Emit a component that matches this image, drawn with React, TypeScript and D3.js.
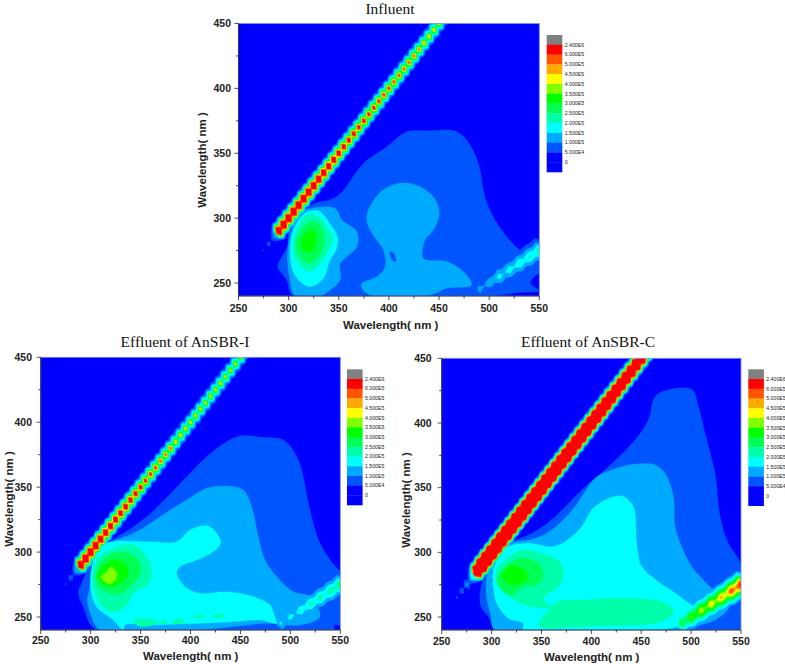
import React from "react";
import * as d3 from "d3";

type Pt = [number, number];
type Layer = { level: number; points: Pt[] };

// Contour levels and their colours (low to high)
const levelValues = [5e4, 1e5, 1.5e5, 2e5, 2.5e5, 3e5, 3.5e5, 4e5, 4.5e5, 5e5, 6e5];
const levelColors = ["#0055ff", "#00aaff", "#00ffff", "#00ffaa", "#00ff55", "#00ff00", "#80ff00", "#ffff00", "#ffaa00", "#ff5500", "#ff0000"];
const backgroundColor = "#0000ff";

const legendLabels = ["2.400E6", "6.000E5", "5.000E5", "4.500E5", "4.000E5", "3.500E5", "3.000E5", "2.500E5", "2.000E5", "1.500E5", "1.000E5", "5.000E4", "0"];
const legendColors = ["#808080", "#ff0000", "#ff5500", "#ffaa00", "#ffff00", "#80ff00", "#00ff00", "#00ff55", "#00ffaa", "#00ffff", "#00aaff", "#0055ff", "#0000ff", "#0000ff"];

const xMajor = [250, 300, 350, 400, 450, 500, 550];
const xMinor = [275, 325, 375, 425, 475, 525];
const yMajor = [250, 300, 350, 400, 450];
const yMinor = [275, 325, 375, 425];

// Scatter ridge y = x: excitation position and peak height
const ridgeCenters = [265, 270, 275, 280, 285, 290, 295, 300, 305, 310, 315, 320, 325, 330, 335, 340, 345, 350, 355, 360, 365, 370, 375, 380, 385, 390, 395, 400, 405, 410, 415, 420, 425, 430, 435, 440, 445, 450, 455];
const influentRidge = [0, 0, 5.5e4, 7e4, 1e5, 1.3e6, 1.25e6, 1.25e6, 1.25e6, 1.2e6, 1.2e6, 1.15e6, 1.15e6, 1.1e6, 1.05e6, 1e6, 9.5e5, 9e5, 8.5e5, 8e5, 8e5, 7.5e5, 7.5e5, 7e5, 7e5, 6.8e5, 6.5e5, 6.5e5, 6.2e5, 6.2e5, 6e5, 6e5, 5.8e5, 5.5e5, 5.2e5, 5e5, 5e5, 4.6e5, 4.6e5];
const anSbrIRidge = [0, 0, 5.5e4, 8e4, 1.2e5, 1.3e6, 1.25e6, 1.2e6, 1.15e6, 1.1e6, 1e6, 1e6, 9.5e5, 9e5, 9e5, 8.5e5, 8e5, 7.5e5, 7e5, 6.8e5, 6.5e5, 6e5, 5.8e5, 5.8e5, 5e5, 4.8e5, 4.8e5, 4.6e5, 4.6e5, 4.6e5, 4.5e5, 4.5e5, 4.5e5, 4.5e5, 4.4e5, 4.4e5, 4.4e5, 4.4e5, 4.4e5];
const anSbrCRidge = [6e4, 8e4, 1.2e5, 1.7e5, 2.4e6, 3.6e6, 3.6e6, 3.6e6, 3.6e6, 3.6e6, 3.6e6, 3.5e6, 3.5e6, 3.5e6, 3.5e6, 3.4e6, 3.4e6, 3.3e6, 3.3e6, 3.2e6, 3.2e6, 3.1e6, 3.1e6, 3e6, 3e6, 2.9e6, 2.9e6, 2.8e6, 2.8e6, 2.7e6, 2.6e6, 2.5e6, 2.4e6, 2.3e6, 2.2e6, 2.1e6, 2e6, 2e6, 2e6];

// Second-order ridge y = x / 2
const secondX = [490, 500, 510, 520, 530, 540, 550];
const secondY = [245, 250, 255, 260, 265, 270, 275];
const influentSecond = [1.2e5, 1.3e5, 1.7e5, 1.8e5, 2e5, 2.1e5, 2.4e5];
const anSbrISecond = [1.6e5, 1.7e5, 1.9e5, 2.2e5, 2.3e5, 2.4e5, 2.8e5];
const anSbrCSecond = [3e5, 3.6e5, 4.2e5, 4.5e5, 4.8e5, 5.5e5, 6.5e5];

// Broad fluorescence contours, in (emission, excitation) nm
const influentContours: Layer[] = [
  { level: 0, points: [[324.7, 310.9], [348, 316.5], [374.6, 342.2], [397.8, 355], [417.8, 366.6], [441, 367.3], [461, 367.9], [471, 365.3], [480.9, 356.3], [489.2, 342.2], [495.8, 316.5], [504, 301.1], [517.4, 285.7], [532.4, 274.2], [550, 265], [550, 258], [545, 255], [541, 250], [550, 244], [534, 243], [500.8, 240], [304.8, 240], [298, 252.3], [289.2, 262.6], [293.2, 270.3], [298.8, 278], [300.8, 290.8], [313, 303.7]] },
  { level: 1, points: [[313, 305], [321.4, 307.5], [346.3, 307.5], [353, 298.5], [368, 289.6], [368, 278], [358, 270.3], [351.3, 265], [351.3, 252.3], [341.4, 244.6], [331.4, 240], [306.5, 240], [300.8, 255], [298.8, 273], [303, 290.8]] },
  { level: 1, points: [[414.4, 327.3], [431, 324.2], [444.3, 316.5], [450.3, 303.7], [444.3, 290.8], [436, 283.1], [434.4, 269], [457.6, 266.5], [474.2, 258.8], [482.5, 248.5], [457.6, 246], [441, 240.8], [381.2, 240.8], [373, 246], [373, 249.8], [387.9, 254.9], [396.2, 262.6], [394.5, 275.4], [387.9, 283.1], [379.6, 293.4], [377.9, 301.1], [382.9, 311.4], [396.2, 322.9]] },
  { level: 2, points: [[316.4, 303.7], [329.7, 305.7], [339.7, 297.3], [348.7, 285.7], [348, 276.7], [341.4, 267.7], [334.7, 253.6], [321.4, 247.2], [309.8, 252.3], [303, 262.6], [301.5, 275.4], [304.8, 290.8]] },
  { level: 3, points: [[318.1, 302.4], [329.7, 301.1], [338, 293.4], [344, 284.4], [339.7, 275.4], [331.4, 265.2], [320.8, 258.8], [309.8, 265.2], [304.8, 275.4], [307, 288]] },
  { level: 4, points: [[320.4, 297.3], [329.7, 296], [334.7, 288.3], [334.7, 278], [328.7, 269], [319.8, 265.2], [311.5, 270.3], [307, 278], [309.8, 287]] },
  { level: 5, points: [[321.4, 290.8], [327.4, 287], [326.4, 279.3], [321.4, 273.6], [314, 276.7], [313.1, 283.1]] },
];
const anSbrIContours: Layer[] = [
  { level: 0, points: [[324.4, 310.6], [356.1, 327.3], [396.2, 358.1], [416.2, 373.5], [436.2, 385], [449.6, 389.4], [472.9, 388.4], [492.9, 386.3], [504.6, 376.1], [511.3, 363.2], [519.6, 332.4], [529.6, 306.8], [543, 290.8], [550, 284.2], [550, 243.9], [544, 243.9], [543, 240], [306, 240], [292.7, 258], [287.7, 268.3], [291, 276], [295.4, 283.7], [301, 293.9], [309.4, 304.2]] },
  { level: 1, points: [[321.1, 308], [346.1, 315.7], [369.5, 327.3], [396.2, 340.1], [416.2, 349.1], [436.2, 350.9], [452.9, 347.8], [461.2, 335], [467.9, 311.9], [474.6, 293.9], [486.3, 281.1], [503, 269.5], [519.6, 265.7], [529.6, 250.3], [509.6, 243.9], [476.3, 245.2], [442.9, 242.6], [409.5, 240], [309.4, 240], [301, 250.3], [296.7, 263.1], [299.4, 273.4], [303.4, 293.9], [311, 304.2]] },
  { level: 2, points: [[321.1, 308], [359.5, 308], [386.2, 308], [399.5, 317], [416.2, 320.4], [426.2, 314.5], [430.2, 306.8], [422.9, 300.3], [406.2, 293.9], [389.5, 288.8], [386.2, 283.7], [394.5, 273.4], [409.5, 268.3], [436.2, 269.5], [462.9, 265.7], [479.6, 259.3], [484.6, 249.8], [486.3, 245.2], [469.6, 247.7], [442.9, 246.4], [409.5, 245.2], [359.5, 243.9], [334.4, 243.9], [332.8, 240], [322.7, 247.7], [306, 258], [300, 273.4], [302, 291.4], [309.4, 304.2]] },
  { level: 3, points: [[309.4, 296.5], [322.7, 302.9], [342.8, 305.5], [356.1, 296.5], [361.1, 286.2], [357.8, 276], [342.8, 268.3], [336.1, 259.3], [324.4, 254.1], [312.7, 258], [304.4, 268.3], [302, 281.1], [304.4, 291.4]] },
  { level: 3, points: [[342.8, 247.2], [356.1, 249], [366.1, 245.6], [356.1, 242.6], [346.1, 243.9]] },
  { level: 3, points: [[366.8, 246.2], [372.8, 247.2], [377.8, 245.9], [372.8, 244.9]] },
  { level: 3, points: [[381.1, 245.7], [391.2, 249], [393.5, 246.5], [386.2, 244.6]] },
  { level: 3, points: [[402.2, 250.3], [409.5, 251.8], [413.5, 250.3], [407.8, 248.7]] },
  { level: 3, points: [[422.9, 250.8], [431.2, 252.3], [433.5, 250.8], [426.2, 249.3]] },
  { level: 4, points: [[312.7, 294], [324.4, 299.6], [341.1, 298.5], [350.1, 290], [349.4, 282.4], [341.1, 274.7], [331.1, 268.3], [319.4, 268.3], [309.4, 272.1], [305, 279.8], [307.7, 288.3]] },
  { level: 5, points: [[316.1, 291.4], [324.4, 294], [335.4, 290], [337.1, 282.4], [331.1, 276.7], [321.1, 273.4], [312.7, 275.4], [307, 279.8], [309.4, 286.8]] },
  { level: 6, points: [[320.1, 288.6], [326.1, 284.8], [326.1, 280], [319.4, 275.3], [312.4, 278.4], [310, 281], [315.4, 284]] },
];
const anSbrCContours: Layer[] = [
  { level: 0, points: [[320.2, 308.3], [343.5, 316], [363.6, 327.6], [390.3, 348.2], [417, 366.2], [443.8, 386.9], [457.1, 402.3], [463.8, 420.4], [473.8, 425], [500.6, 426], [507.3, 412.6], [515.6, 386.9], [524, 361.1], [529, 327.6], [537.3, 307], [550, 290.2], [550, 240], [305.1, 240], [296.8, 250.3], [289.4, 258], [288.4, 268.3], [293.4, 283.8], [300.1, 294.1], [310.1, 304.4]] },
  { level: 1, points: [[318.5, 307], [343.5, 310.8], [360.3, 317.3], [383.6, 335.3], [403.7, 357.2], [420.4, 363.7], [443.8, 368.3], [463.8, 367.5], [473.8, 361.1], [482.2, 343.1], [483.9, 319.9], [490.6, 304.4], [500.6, 288.9], [513.9, 277.3], [537.3, 258], [524, 247.7], [503.9, 243.1], [483.9, 240], [303.5, 240], [299.4, 250.3], [295.1, 265.7], [295.1, 281.2], [300.8, 291.5], [308.5, 300.5]] },
  { level: 2, points: [[316.8, 304.4], [336.9, 307], [360.3, 304.4], [373.6, 308.3], [390.3, 319.9], [400.3, 332.7], [413.7, 340.5], [430.4, 343.6], [442.1, 335.3], [445.4, 307], [450.5, 289], [467.2, 277.3], [482.2, 269.6], [495.6, 261.9], [503.9, 256.7], [497.2, 246.4], [483.9, 242], [437, 240], [331.9, 240], [331.9, 245.1], [316.8, 249], [305.1, 260.6], [301.8, 273.5], [301.8, 286.4], [307.5, 296.7]] },
  { level: 3, points: [[311.8, 292.8], [330.2, 301.8], [350.2, 299.2], [368.6, 292.8], [371.9, 282.5], [366.9, 273.5], [351.9, 264.5], [358.6, 258], [336.9, 258.5], [320.2, 264.5], [310.1, 270.9], [305.1, 279.9], [305.1, 287.6]] },
  { level: 3, points: [[346.9, 243.8], [357, 255.4], [366.9, 261.9], [390.3, 263.2], [430.4, 264.5], [470.5, 261.9], [482.2, 255.4], [477.2, 249], [463.8, 245.1], [403.7, 243.1], [350.2, 242]] },
  { level: 4, points: [[309.5, 285.1], [328.5, 295.4], [346.9, 291.5], [351.9, 282.5], [345.2, 274.8], [331.9, 273.5], [320.2, 267], [310.1, 270.9], [305.1, 278.6]] },
  { level: 5, points: [[318.5, 289.5], [331.9, 286.9], [336.2, 280], [323.5, 274.8], [313.5, 277.3], [310.8, 283.8]] },
];
const influentHole: Pt[] = [[401, 274.2], [405, 272.9], [407, 266.5], [403, 267.7]];

// Ridge cross-section: share of peak height against offset from the crest (nm)
const profileShare = [1, 0.9, 0.68, 0.5, 0.34, 0.2, 0.1, 0.05, 0.02];
const profileOffset = [0, 1, 2, 3, 4, 5, 6, 7, 8];
const reach = d3.scaleLinear().domain(profileShare).range(profileOffset).clamp(true);

type Ridge = { xs: number[]; ys: number[]; peaks: number[]; normal: Pt; saddle: number };

function ridgeCells(r: Ridge, level: number): Pt[][] {
  const out: Pt[][] = [];
  r.peaks.forEach((p, i) => {
    if (p < level) return;
    const c: Pt = [r.xs[i], r.ys[i]];
    const t = reach(level / p);
    const side = (j: number): [Pt, number] => {
      const q = r.peaks[j] ?? 0;
      const nb: Pt = r.xs[j] !== undefined ? [r.xs[j], r.ys[j]] : [2 * c[0] - r.xs[2 * i - j], 2 * c[1] - r.ys[2 * i - j]];
      const sv = (r.saddle * (p + q)) / 2;
      const half: Pt = [(nb[0] - c[0]) / 2, (nb[1] - c[1]) / 2];
      if (level >= sv) {
        const e = (p - level) / Math.max(p - sv, 1);
        return [[c[0] + half[0] * e, c[1] + half[1] * e], 0];
      }
      return [[c[0] + half[0], c[1] + half[1]], reach(level / sv)];
    };
    const [f, nf] = side(i + 1);
    const [b, nb] = side(i - 1);
    const [nx, ny] = r.normal;
    out.push([
      [c[0] + nx * t, c[1] + ny * t],
      [f[0] + nx * nf, f[1] + ny * nf],
      [f[0] - nx * nf, f[1] - ny * nf],
      [c[0] - nx * t, c[1] - ny * t],
      [b[0] - nx * nb, b[1] - ny * nb],
      [b[0] + nx * nb, b[1] + ny * nb],
    ]);
  });
  return out;
}

type PanelSpec = {
  id: string; title: string; titleX: number; titleY: number;
  left: number; right: number; top: number; bottom: number;
  legendX: number; legendTop: number; legendBottom: number;
  xLabelX: number; xLabelY: number; xTickY: number; yLabelX: number; yLabelY: number; yTickX: number;
  contours: Layer[]; ridge: number[]; second: number[]; hole?: Pt[];
};

const panels: PanelSpec[] = [
  { id: "a", title: "Influent", titleX: 390, titleY: 14, left: 238.5, right: 539.3, top: 23.5, bottom: 296, legendX: 546.7, legendTop: 35, legendBottom: 172, xLabelX: 390.7, xLabelY: 329, xTickY: 312, yLabelX: 202, yLabelY: 160, yTickX: 231, contours: influentContours, ridge: influentRidge, second: influentSecond, hole: influentHole },
  { id: "b", title: "Effluent of AnSBR-I", titleX: 185, titleY: 347, left: 40.7, right: 340.3, top: 357.3, bottom: 630, legendX: 347, legendTop: 369.3, legendBottom: 505, xLabelX: 190.7, xLabelY: 660, xTickY: 644, yLabelX: 9, yLabelY: 499, yTickX: 32, contours: anSbrIContours, ridge: anSbrIRidge, second: anSbrISecond },
  { id: "c", title: "Effluent of AnSBR-C", titleX: 588, titleY: 347, left: 441.7, right: 741, top: 358.3, bottom: 630, legendX: 748.3, legendTop: 369.3, legendBottom: 505.7, xLabelX: 591.7, xLabelY: 661, xTickY: 645, yLabelX: 406, yLabelY: 500, yTickX: 431.7, contours: anSbrCContours, ridge: anSbrCRidge, second: anSbrCSecond },
];

const sans = "'Liberation Sans', Arial, sans-serif";
const serif = "'Liberation Serif', 'Times New Roman', serif";

function Panel({ s }: { s: PanelSpec }) {
  const x = d3.scaleLinear().domain([250, 550]).range([s.left, s.right]);
  const y = d3.scaleLinear().domain([240, 450]).range([s.bottom, s.top]);
  const smooth = d3.line<Pt>().x((d) => x(d[0])).y((d) => y(d[1])).curve(d3.curveCatmullRomClosed.alpha(0.5));
  const sharp = d3.line<Pt>().x((d) => x(d[0])).y((d) => y(d[1])).curve(d3.curveLinearClosed);
  const first: Ridge = { xs: ridgeCenters, ys: ridgeCenters, peaks: s.ridge, normal: [-0.85, 0.85], saddle: 0.46 };
  const second: Ridge = { xs: secondX, ys: secondY, peaks: s.second, normal: [-0.9, 1.9], saddle: 0.8 };
  const legendBand = d3.scaleBand<number>().domain(d3.range(legendColors.length)).range([s.legendTop, s.legendBottom]);
  return (
    <g>
      <text x={s.titleX} y={s.titleY} textAnchor="middle" fontFamily={serif} fontSize={15.5} fill="#111">{s.title}</text>
      <clipPath id={`clip-${s.id}`}><rect x={s.left} y={s.top} width={s.right - s.left} height={s.bottom - s.top} /></clipPath>
      <g clipPath={`url(#clip-${s.id})`}>
        <g filter="url(#soft)">
          <rect x={s.left - 4} y={s.top - 4} width={s.right - s.left + 8} height={s.bottom - s.top + 8} fill={backgroundColor} />
          {levelValues.map((lv, li) => (
            <g key={li} fill={levelColors[li]} stroke={levelColors[li]} strokeWidth={0.3}>
              {s.contours.filter((c) => c.level === li).map((c, i) => <path key={i} d={smooth(c.points) ?? ""} />)}
              {ridgeCells(first, lv).map((c, i) => <path key={`r${i}`} d={sharp(c) ?? ""} />)}
              {ridgeCells({ ...second, peaks: s.second }, lv).map((c, i) => <path key={`s${i}`} d={sharp(c) ?? ""} />)}
            </g>
          ))}
          {s.hole ? <path d={smooth(s.hole) ?? ""} fill={levelColors[0]} /> : null}
        </g>
      </g>
      <rect x={s.left} y={s.top} width={s.right - s.left} height={s.bottom - s.top} fill="none" stroke="#7f8fe8" strokeWidth={0.8} />
      <path d={`M${s.left},${s.top}V${s.bottom}H${s.right}`} fill="none" stroke="#222" strokeWidth={0.8} />
      {xMajor.map((t) => (
        <g key={t}>
          <line x1={x(t)} x2={x(t)} y1={s.bottom} y2={s.bottom + 4} stroke="#222" strokeWidth={0.8} />
          <text x={x(t)} y={s.xTickY} textAnchor="middle" fontFamily={sans} fontSize={10.5} fontWeight={700} fill="#222">{t}</text>
        </g>
      ))}
      {xMinor.map((t) => <line key={t} x1={x(t)} x2={x(t)} y1={s.bottom} y2={s.bottom + 2.5} stroke="#222" strokeWidth={0.8} />)}
      {yMajor.map((t) => (
        <g key={t}>
          <line x1={s.left - 4} x2={s.left} y1={y(t)} y2={y(t)} stroke="#222" strokeWidth={0.8} />
          <text x={s.yTickX} y={y(t) + 3.8} textAnchor="end" fontFamily={sans} fontSize={10.5} fontWeight={700} fill="#222">{t}</text>
        </g>
      ))}
      {yMinor.map((t) => <line key={t} x1={s.left - 2.5} x2={s.left} y1={y(t)} y2={y(t)} stroke="#222" strokeWidth={0.8} />)}
      <text x={s.xLabelX} y={s.xLabelY} textAnchor="middle" fontFamily={sans} fontSize={11.5} fontWeight={700} fill="#222">Wavelength( nm )</text>
      <text transform={`translate(${s.yLabelX},${s.yLabelY}) rotate(-90)`} textAnchor="middle" fontFamily={sans} fontSize={11.5} fontWeight={700} fill="#222" dy="0.35em">Wavelength( nm )</text>
      {legendColors.map((c, i) => (
        <rect key={i} x={s.legendX} y={legendBand(i)} width={15.6} height={legendBand.bandwidth() + 0.3} fill={c} />
      ))}
      {legendLabels.map((t, i) => (
        <text key={t} x={s.legendX + 18} y={(legendBand(i + 1) ?? 0) + 1.8} fontFamily={sans} fontSize={5.2} fill="#222">{t}</text>
      ))}
    </g>
  );
}

export default function App() {
  return (
    <svg width={785} height={664} style={{ position: "absolute", left: 0, top: 0, background: "#fff" }}>
      <defs>
        <filter id="soft" x="-2%" y="-2%" width="104%" height="104%">
          <feGaussianBlur stdDeviation={0.55} />
        </filter>
      </defs>
      {panels.map((s) => <Panel key={s.id} s={s} />)}
    </svg>
  );
}
